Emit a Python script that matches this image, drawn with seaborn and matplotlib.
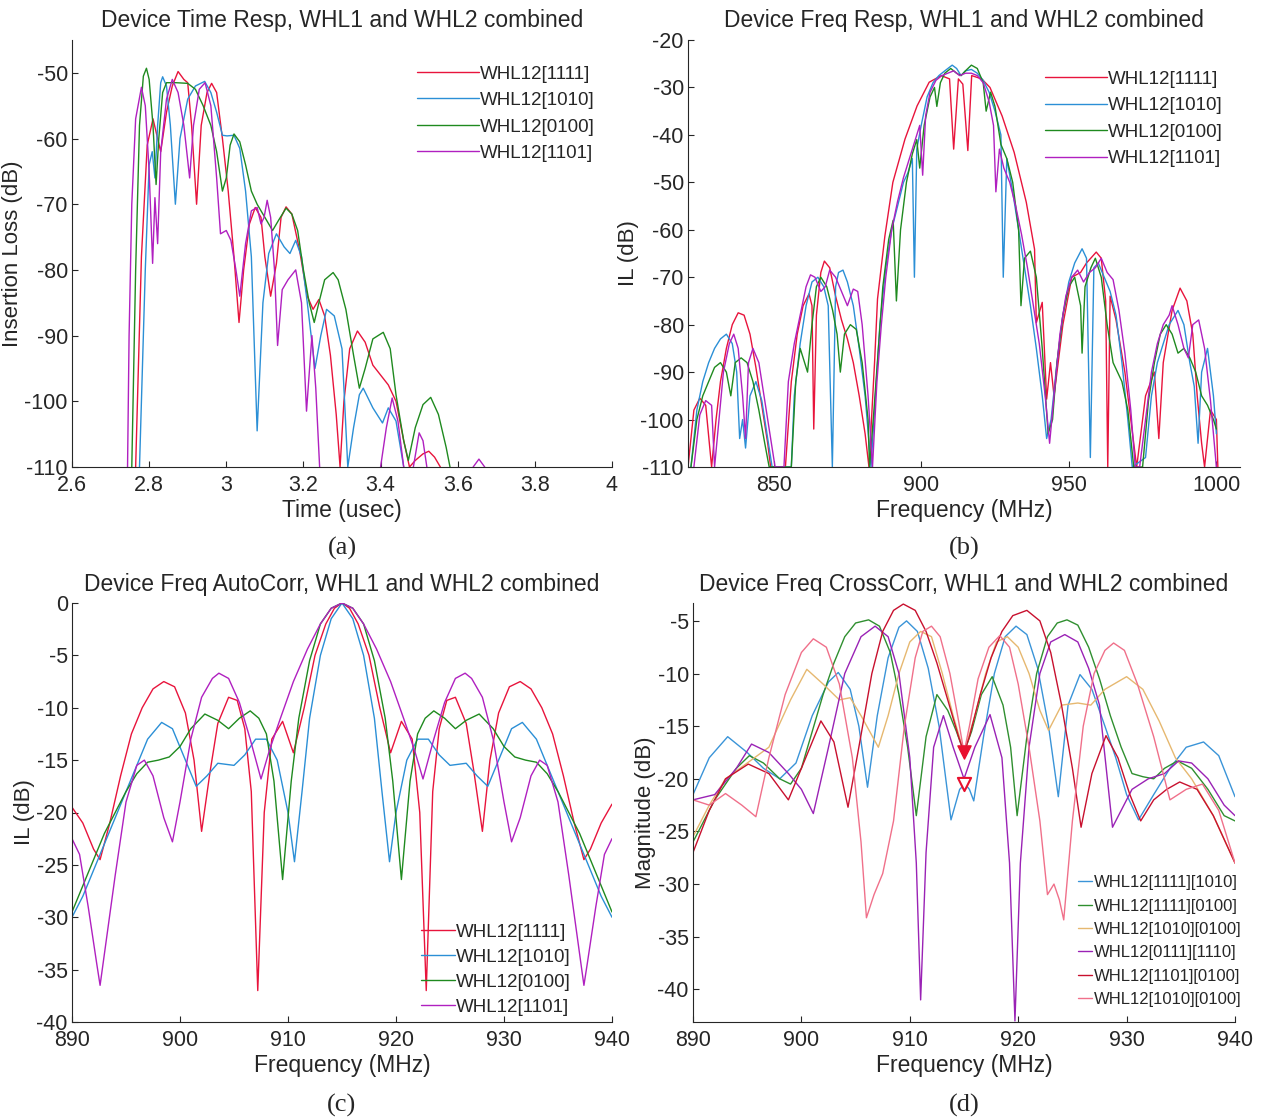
import numpy as np
import pandas as pd
import matplotlib
matplotlib.use("Agg")
import matplotlib.pyplot as plt
import seaborn as sns

# ---------------- (a) time response ----------------
a_1111_t = [2.765, 2.78, 2.795, 2.81, 2.83, 2.845, 2.86, 2.875, 2.89, 2.90, 2.91, 2.923, 2.935, 2.95, 2.962,
            2.975, 2.99, 3.005, 3.02, 3.033, 3.045, 3.06, 3.075, 3.09, 3.10, 3.115, 3.13, 3.142, 3.155, 3.17,
            3.19, 3.21, 3.225, 3.24, 3.255, 3.27, 3.285, 3.295, 3.305, 3.32, 3.34, 3.36, 3.38, 3.40, 3.42,
            3.44, 3.46, 3.475, 3.49, 3.51, 3.525, 3.54, 3.555]
a_1111_il = [-110, -78, -61, -57, -62, -56, -52, -49.8, -51, -51.5, -58, -70, -58, -53, -51.6,
             -53, -60, -68, -78, -88, -80, -73, -70.5, -72, -78, -84, -79, -72, -70.4, -71.5,
             -77, -84, -86, -84.5, -87, -93, -102, -110, -100, -92, -89.3, -91, -94.5, -96, -97.5,
             -100, -106, -110, -109, -108, -107.6, -108.5, -110]

a_1010_t = [2.775, 2.79, 2.80, 2.808, 2.815, 2.822, 2.83, 2.835, 2.845, 2.855, 2.868, 2.88, 2.90, 2.92, 2.944,
            2.96, 2.975, 2.99, 3.002, 3.02, 3.035, 3.05, 3.065, 3.08, 3.095, 3.11, 3.13, 3.15, 3.165, 3.18,
            3.195, 3.21, 3.23, 3.245, 3.26, 3.28, 3.30, 3.315, 3.33, 3.345, 3.355, 3.38, 3.405, 3.42, 3.44, 3.46]
a_1010_il = [-110, -80, -64, -62, -66, -58, -51.5, -50.6, -52, -58, -70, -60, -54, -52, -51.3,
             -53, -56, -59.5, -59.6, -59.5, -61.5, -68, -78, -104.5, -85, -77.5, -74.5, -76.5, -77.5, -75.5,
             -78, -85, -95, -90, -86, -87, -92, -110, -104, -99, -98, -101, -103.3, -101, -103, -110]

a_0100_t = [2.755, 2.765, 2.775, 2.785, 2.793, 2.80, 2.81, 2.818, 2.825, 2.835, 2.845, 2.87, 2.90, 2.92, 2.94,
            2.96, 2.975, 2.99, 3.0, 3.01, 3.02, 3.035, 3.05, 3.065, 3.08, 3.10, 3.12, 3.135, 3.155, 3.17,
            3.185, 3.2, 3.215, 3.228, 3.24, 3.255, 3.277, 3.29, 3.31, 3.33, 3.345, 3.36, 3.38, 3.407, 3.425,
            3.44, 3.46, 3.472, 3.49, 3.51, 3.53, 3.55, 3.57, 3.58]
a_0100_il = [-110, -80, -58, -50.5, -49.3, -51, -58, -67, -60, -53, -51.5, -51.5, -51.6, -52.5, -55,
             -58, -62, -68, -66, -61, -59.3, -60.5, -64, -68, -70, -72, -74, -72.5, -70.6, -71.5,
             -74, -80, -85, -88, -85, -81.5, -80.4, -81.5, -86, -93, -98, -95, -90.5, -89.5, -92,
             -99, -106, -109, -104, -100.5, -99.4, -102, -107, -110]

a_1101_t = [2.744, 2.748, 2.755, 2.765, 2.78, 2.79, 2.80, 2.809, 2.815, 2.822, 2.83, 2.845, 2.86, 2.875, 2.89,
            2.905, 2.915, 2.93, 2.945, 2.96, 2.975, 2.985, 3.0, 3.012, 3.025, 3.035, 3.05, 3.065, 3.08, 3.09,
            3.098, 3.106, 3.115, 3.125, 3.133, 3.145, 3.16, 3.18, 3.195, 3.208, 3.222, 3.232, 3.242]
a_1101_il = [-110, -90, -70, -57, -52.2, -55, -65, -79, -69, -76, -62, -54, -51, -53, -58,
             -66, -58, -52.5, -51.5, -55, -66, -74.5, -74, -75.5, -80, -84, -76, -71, -70.5, -73,
             -72, -69.4, -72, -80, -91.5, -83, -81.5, -80, -85, -101.5, -90, -98, -110]
a_1101_t2 = [3.40, 3.415, 3.43, 3.445, 3.46]
a_1101_il2 = [-110, -104, -99.5, -103, -110]
a_1101_t3 = [3.485, 3.50, 3.51, 3.52]
a_1101_il3 = [-110, -104.8, -106, -110]
a_1101_t4 = [3.64, 3.655, 3.67]
a_1101_il4 = [-110, -108.8, -110]

# ---------------- (b) frequency response ----------------
b_1111_f = [821, 823, 825, 827, 829, 830.5, 832, 834, 836, 838, 840, 842, 844, 846, 848, 849,
            854, 856, 858, 860, 862, 863, 863.6, 864.5, 866, 867.2, 869, 871, 873, 875, 877, 879, 881,
            882.3, 884.2, 885.2, 887.7, 890.4, 894.5, 898.6, 902.7, 906.8, 909.6, 911, 912.6, 914.1,
            915.8, 917.1, 920.5, 923.3, 927.4, 931.5, 935.6, 938.4, 939, 941, 942.5, 943.8, 945, 948,
            951, 954, 956, 959.3, 961, 962.5, 963.2, 964, 966, 969, 972, 973, 976, 979, 980.5, 982,
            985, 987.7, 990, 992, 993.5, 995, 996, 998, 1000, 1000.5]
b_1111_il = [-110, -98, -95.5, -97, -110, -100, -92, -85, -80, -77.5, -78, -82, -89, -97, -105, -110,
             -110, -92, -82, -76, -73.5, -76, -102, -78, -69, -66.6, -68, -74, -79, -83, -88, -95, -103,
             -110, -88, -74.6, -61.3, -50, -40.9, -33.9, -28.9, -27.5, -28.2, -43, -28.2, -29.3,
             -43.3, -27.5, -28.2, -30, -36, -43.7, -54.2, -64.1, -79.6, -75.3, -95.7, -88, -95, -80,
             -70, -69, -67, -64.7, -66, -75, -110, -74, -79, -90, -105, -110, -95, -90, -104, -88,
             -77, -72.3, -75, -82, -95, -105, -110, -98, -100, -110]

b_1010_f = [822, 824, 826, 828, 830, 832, 834, 836, 837.5, 838.5, 839.5, 840.5, 842, 844, 846, 848, 849.5,
            856, 857, 859, 861, 863, 865, 867, 868.5, 869.9, 871, 872, 873.5, 875, 877, 879, 881, 883,
            884.5, 886, 888, 890, 892, 894, 895.5, 897, 897.7, 898.5, 900, 902, 904, 906, 908, 910.5,
            912, 913.5, 915, 917, 919, 921, 923, 925, 927, 927.8, 929, 931, 933, 935, 937, 939, 941,
            942.5, 944, 946, 948, 950, 952, 954.5, 956, 957.3, 958.5, 960, 962, 964, 966, 968, 970, 971.5,
            976, 978, 980, 982, 984, 986, 987, 989, 991, 992.5, 993.8, 995, 997, 999, 1000]
b_1010_il = [-110, -98, -92, -88, -85, -83, -82, -84, -90, -104, -100, -106, -95, -92, -96, -104, -110,
             -110, -95, -84, -76, -71, -70, -72, -76, -110, -72, -69, -68.5, -71, -76, -85, -95, -110,
             -95, -80, -68, -60, -55, -50, -48, -45, -70, -43, -38, -32, -29, -27.5, -26.5, -25.3,
             -26, -27.5, -26.5, -26.2, -27, -28.5, -31, -35, -40, -70, -45, -52, -60, -68, -76, -85, -95,
             -104, -100, -88, -78, -71, -67, -64, -66, -108, -68, -67, -70, -73, -78, -88, -100, -110,
             -108, -95, -88, -84, -80, -78, -77, -80, -88, -93, -105, -90, -85, -95, -103]

b_0100_f = [822, 824, 826, 828, 830, 832, 834, 835.5, 837, 839, 841, 843, 845, 847, 848.5,
            856, 857.5, 859, 860.5, 861.5, 863, 864.5, 866, 868, 870, 871.5, 872.6, 874, 876, 878, 880, 882,
            882.5, 884, 885.5, 887, 889, 890.5, 891.6, 893, 895, 897, 898.5, 899.5, 901, 903, 904.5,
            905.3, 906.5, 908, 910, 912, 913.5, 915, 917, 919, 921, 922, 923.5, 925, 927, 929, 931, 933,
            933.8, 935, 937, 939, 941, 943, 944.5, 946, 948, 950, 952, 954, 954.5, 955.5, 957.5, 959,
            961, 963, 965, 966.5, 968, 970, 972,
            975, 977, 979, 981, 983, 985, 987, 989, 991, 993, 995, 997, 999, 1000]
b_0100_il = [-110, -100, -95, -92, -89, -88, -90, -95, -88, -87, -88, -92, -98, -105, -110,
             -110, -92, -85, -88, -90, -80, -72, -70, -72, -77, -82, -90, -82, -80, -81, -88, -100,
             -110, -98, -85, -72, -62, -58, -75, -60, -50, -44, -41, -47, -38, -32, -30,
             -34, -29, -27, -26, -27, -27.5, -26.5, -25.3, -26, -29, -35, -31, -34, -42, -45, -50, -60,
             -76, -66, -64.5, -70, -85, -103, -100, -88, -78, -72, -70, -76, -86, -72, -68, -66,
             -70, -80, -88, -90, -92, -98, -110,
             -110, -96, -88, -82, -80, -82, -86, -85, -87, -90, -95, -97, -100, -102]

b_1101_f = [823, 825, 827, 829, 830, 831.5, 833, 835, 836.5, 838, 839.5, 840.5, 841.5, 843, 845, 847, 849, 850.5,
            853.5, 855, 857, 859, 861, 862.5, 864, 866, 867.5, 869, 871, 873, 875, 877, 878.5, 880, 882,
            883.5, 885, 886.5, 888, 890, 892, 894, 896, 898, 899.5, 900.5, 901.5, 903, 905, 907, 909,
            911, 913, 915, 917, 919, 921, 923, 924.5, 925.3, 926.5, 928, 930, 932, 934, 936, 938, 940,
            942, 943.5, 945, 947, 949, 951, 953, 955, 957, 959, 961, 963, 965, 967, 969, 971, 972.5,
            974, 976, 978, 980, 982, 984, 985, 987, 989, 990.5, 992, 994, 996, 998, 1000]
b_1101_il = [-110, -99, -96, -97, -110, -100, -90, -84, -82, -85, -95, -104, -88, -85, -88, -96, -104, -110,
             -110, -92, -84, -78, -72, -69.5, -70, -73, -72, -68.5, -70, -73, -76, -72.5, -73, -80, -95,
             -110, -92, -80, -70, -60, -54, -49, -45, -41, -38, -48.5, -36, -31, -28.5, -27.5, -27,
             -26.5, -27.5, -27, -27, -27.5, -29, -33, -38, -52, -43, -47, -50, -55, -61, -68, -76, -84,
             -95, -105, -95, -82, -74, -70, -68.5, -71, -69, -68, -66, -69, -70.5, -77, -86, -98, -110,
             -110, -100, -90, -84, -80, -78, -76, -80, -85, -87, -80, -79, -85, -96, -110]

# ---------------- (c) autocorrelation ----------------
c_1111_f = [890, 891, 892, 892.6, 893.5, 894.5, 895.5, 896.5, 897.5, 898.5, 899.5, 900.5, 901.3, 902,
            902.8, 903.5, 904.5, 905.3, 906, 906.6, 907.2, 907.8, 908.5, 909.5, 910.5, 911.5, 912.5,
            913.5, 914.3, 915, 915.7, 916.5, 917.5, 918.5, 919.5, 920.5, 921.5, 922.2, 922.8, 923.4,
            924, 924.7, 925.5, 926.5, 927.2, 928, 928.7, 929.5, 930.5, 931.5, 932.5, 933.5, 934.5,
            935.5, 936.5, 937.4, 938, 939, 940]
c_1111_il = [-19.5, -21, -23.5, -24.5, -21, -16.5, -12.5, -10, -8.2, -7.5, -8, -10.5, -15, -21.8,
             -16, -11.5, -9, -9.3, -12, -18, -37, -20, -13, -11.3, -14.3, -10, -5,
             -2, -0.5, 0, -0.5, -2, -5, -10, -14.3, -11.3, -13, -20, -37, -18,
             -12, -9.3, -9, -11.5, -16, -21.8, -15, -10.5, -8, -7.5, -8.2, -10, -12.5,
             -16.5, -21, -24.5, -23.5, -21, -19.2]

c_1010_f = [890, 891, 892, 893, 894, 895, 896, 897, 898.3, 899.3, 900.3, 901.5, 902.5, 903.5, 905, 906,
            907, 908, 909, 910, 910.6, 911.3, 912, 913, 914, 915, 916, 917, 918, 918.7, 919.4, 920, 921,
            922, 923, 924, 925, 926.5, 927.5, 928.5, 929.7, 930.7, 931.7, 933, 934, 935, 936, 937, 938,
            939, 940]
c_1010_il = [-30, -28, -25.5, -23, -20.5, -18, -15.5, -13, -11.4, -12, -14.5, -17.5, -16.5, -15.3, -15.5, -14.5,
             -13, -13, -15, -20, -24.7, -18, -11, -5, -1.5, 0, -1.5, -5, -11, -18, -24.7, -20, -15,
             -13, -13, -14.5, -15.5, -15.3, -16.5, -17.5, -14.5, -12, -11.4, -13, -15.5, -18, -20.5, -23, -25.5,
             -28, -30]

c_0100_f = [890, 891, 892, 893, 894, 895, 896, 897, 898, 899, 900, 901, 902.3, 903.5, 904.5, 905.5, 906.5,
            907.3, 908, 908.7, 909.5, 910.3, 911, 912, 913, 914, 915, 916, 917, 918, 919, 919.7, 920.5,
            921.3, 922, 922.7, 923.5, 924.5, 925.5, 926.5, 927.7, 929, 930, 931, 932, 933, 934, 935,
            936, 937, 938, 939, 940]
c_0100_il = [-29.5, -27, -24.5, -22, -20, -18, -16.3, -15.2, -15, -14.7, -13.7, -12, -10.6, -11.2, -12, -11, -10.3,
             -11, -12.5, -17, -26.4, -17, -11, -5.5, -2, -0.5, 0, -0.5, -2, -5.5, -11, -17, -26.4,
             -17, -12.5, -11, -10.3, -11, -12, -11.2, -10.6, -12, -13.7, -14.7, -15, -15.2, -16.3, -18,
             -20, -22, -24.5, -27, -29.5]

c_1101_f = [890, 890.7, 891.5, 892.3, 892.6, 893.2, 894, 895, 896, 896.7, 897.5, 898.5, 899.3, 900, 901,
            902, 903, 903.6, 904.5, 905.5, 906.5, 907.5, 908.3, 909.3, 910.5, 911.8, 913, 914, 915, 916,
            917, 918.2, 919.5, 920.7, 921.7, 922.5, 923.5, 924.5, 925.5, 926.4, 927, 928, 929, 930,
            930.7, 931.5, 932.5, 933.3, 934, 935, 936, 936.8, 937.4, 937.7, 938.5, 939.3, 940]
c_1101_il = [-22.5, -24, -29, -34.5, -36.5, -32, -26, -19, -15.5, -15, -16.5, -20.5, -22.8, -19, -13,
             -9, -7.2, -6.7, -7.2, -9.5, -13, -16.8, -14, -11, -7.5, -4.4, -2, -0.5, 0, -0.5,
             -2, -4.4, -7.5, -11, -14, -16.8, -13, -9.5, -7.2, -6.7, -7.2, -9, -13, -19,
             -22.8, -20.5, -16.5, -15, -15.5, -19, -26, -32, -36.5, -34.5, -29, -24, -22.5]

# ---------------- (d) cross-correlation ----------------
d_s1_f = [890, 891.5, 893.2, 895, 896.5, 898, 899.5, 901, 902.5, 903.4, 904.5, 905.3, 906.1, 907, 908, 909,
          909.7, 910.7, 911.7, 912.7, 913.8, 914.6, 915.1, 915.5, 915.9, 916.8, 917.8, 918.8, 919.8, 920.8,
          921.8, 922.8, 923.7, 924.6, 925.7, 926.8, 928, 929, 930, 931.1, 932.5, 934, 935.5, 937.1, 938.5, 940]
d_s1_db = [-21.5, -18, -16, -17.5, -19, -20, -18.5, -14, -10.8, -9.9, -11.5, -15, -20.8, -14, -8.5, -5.6,
           -5.0, -6, -9.5, -15, -23.9, -21, -20.5, -21, -22.1, -16, -10, -6.5, -5.5, -6.3,
           -9.5, -15, -21.7, -13, -10.1, -11.5, -15, -18, -21.5, -23.9, -21.5, -19, -17, -16.5, -17.8, -21.7]

d_s2_f = [890, 892, 894, 895.2, 896.5, 898, 899, 900, 901, 902, 903, 904, 905, 906.2, 907.2, 908.2, 909,
          909.8, 910.6, 911.5, 912.5, 913.5, 914.3, 915, 915.7, 916.6, 917.6, 918.6, 919.3, 919.9, 920.8,
          921.7, 922.7, 923.6, 924.5, 925.5, 926.5, 927.5, 928.5, 929.5, 930.5, 931.5, 932.5, 933.5,
          934.7, 936, 937.5, 939, 940]
d_s2_db = [-26, -22, -19, -17.8, -18.5, -20, -20.5, -19, -15.5, -12, -9, -6.5, -5.2, -4.9, -5.5, -8, -12,
           -17, -23.5, -16, -12, -13.5, -15.5, -17.5, -15.5, -12, -10.3, -13, -17, -23.5, -16,
           -10, -6.5, -5.2, -4.9, -5.4, -7.5, -10.5, -14, -17, -19.5, -19.8, -20, -19,
           -18.3, -19, -21, -23.5, -24]

d_s3_f = [890, 891.5, 893, 895, 897, 899, 900.5, 902, 903.5, 904.5, 905.5, 907.1, 908, 909, 910, 911, 912,
          913, 914, 915, 916, 917, 918, 919, 920, 921, 922, 922.8, 924, 925.5, 926.7, 928, 930, 931.5,
          933, 934.5, 936, 938, 940]
d_s3_db = [-25.5, -22.5, -20, -18.5, -17, -12.5, -9.6, -11, -12.5, -12.3, -14, -17, -14, -10, -7, -6, -6.5,
           -10, -14, -17.5, -14, -10, -7, -6.5, -7.5, -10, -13.5, -15.4, -13, -12.8, -13, -11.5, -10.3, -11.5,
           -14.5, -18, -20, -23.5, -28]

d_s4_f = [890, 892, 894, 895.4, 897, 898.8, 900, 901.1, 902.5, 904, 905.5, 906.8, 908, 909, 910, 910.6,
          911, 911.5, 912.2, 913.1, 914, 915, 916, 917.4, 918.5, 919.2, 919.7, 920.2, 921, 922, 923,
          924.3, 925.5, 926.5, 927.5, 928.7, 930.5, 932, 933.5, 934.8, 936, 937.5, 939, 940]
d_s4_db = [-22, -21.5, -19, -16.7, -17.5, -19.5, -21, -23.3, -17, -10, -6.5, -5.5, -6.5, -10, -18, -28,
           -41, -27, -17, -14, -17, -20, -17, -13.9, -18, -28, -43, -28, -17, -10, -7,
           -6.3, -7, -9.5, -13, -24.6, -21, -20, -19.5, -18.3, -18.5, -20, -22.5, -23.5]

d_s5_f = [890, 891.5, 893, 895.1, 897, 898.8, 900, 901.8, 903, 904.3, 905.3, 906.5, 907.5, 908.5, 909.4,
          910.5, 911.5, 912.5, 913.5, 914.5, 915, 915.5, 916.5, 917.5, 918.5, 919.5, 920.8, 922, 923,
          924, 925, 925.8, 926.8, 928.1, 929.2, 930.3, 931.3, 932.5, 933.7, 934.9, 936.5, 938, 940]
d_s5_db = [-27, -23, -20, -18.6, -19.5, -22, -19, -14.5, -16.5, -22.7, -17, -10, -6, -4, -3.4,
           -4, -6, -9, -12.5, -16, -17.5, -16, -12, -8.5, -6, -4.5, -4.0, -5, -8,
           -13, -19, -24.6, -19.5, -15.9, -18, -21.5, -24, -22, -21, -20.3, -21, -23.5, -28]

d_s6_f = [890, 891.5, 893, 894.5, 895.8, 897, 898.5, 900, 901.1, 902.3, 903.5, 904.7, 905.5, 906, 906.7,
          907.5, 908.5, 909.5, 910.5, 911.2, 912, 912.8, 913.7, 914.5, 915, 915.5, 916.3, 917.3, 918.3,
          919.2, 920, 921, 922, 922.7, 923.3, 923.8, 924.2, 925, 926, 927, 928, 928.8, 929.8, 931, 932.5,
          934, 935.5, 937, 938.5, 940]
d_s6_db = [-22, -22.5, -21.4, -22.5, -23.6, -18, -12, -8, -6.7, -7.5, -11, -18, -26, -33.2, -31,
           -29, -24, -15, -8.5, -6, -5.5, -6.5, -10, -14.5, -17.5, -15, -10.5, -7.5, -6.4,
           -7.5, -11, -17, -24, -31, -30, -31.5, -33.4, -24, -15, -10, -7.8, -7.1, -7.8, -11, -16,
           -22, -21, -20.5, -23, -28]

marker_f = [915, 915]
marker_db = [-17.5, -20.5]

labels_4 = ["WHL12[1111]", "WHL12[1010]", "WHL12[0100]", "WHL12[1101]"]
labels_6 = ["WHL12[1111][1010]", "WHL12[1111][0100]", "WHL12[1010][0100]",
            "WHL12[0111][1110]", "WHL12[1101][0100]", "WHL12[1010][0100]"]

colors_4 = ["#e8143c", "#2b8fd6", "#1f8a1f", "#b020c0"]
colors_6 = ["#3a94d8", "#2f8f2f", "#e6b870", "#9a22b5", "#c8102e", "#f0708a"]

sns.set_style("ticks")
plt.rcParams['font.family'] = ['Liberation Sans', 'DejaVu Sans']
plt.rcParams['axes.unicode_minus'] = False

fig = plt.figure(figsize=(12.62, 11.2), dpi=100)
W, H = 1262.0, 1120.0


def make_ax(l, r, t, b):
    return fig.add_axes([l / W, 1 - b / H, (r - l) / W, (b - t) / H])


def draw(ax, x, y, color, label=None):
    df = pd.DataFrame({"x": x, "y": y})
    sns.lineplot(data=df, x="x", y="y", sort=False, estimator=None, color=color,
                 lw=1.0, label=label, ax=ax, legend=False)


def style(ax, title, xlabel, ylabel, tag, tag_y):
    ax.set_title(title, fontsize=16.5, pad=9)
    ax.set_xlabel(xlabel, fontsize=16.5, labelpad=2)
    ax.set_ylabel(ylabel, fontsize=16, labelpad=1)
    ax.tick_params(direction="in", length=4, width=0.8, labelsize=15.5)
    ax.tick_params(axis="x", pad=6)
    ax.tick_params(axis="y", pad=3)
    sns.despine(ax=ax)
    ax.text(0.5, tag_y, tag, transform=ax.transAxes, ha="center", va="center",
            fontsize=19, family="Liberation Serif")


# (a)
ax = make_ax(72, 612, 40, 467)
series_a = [(a_1111_t, a_1111_il), (a_1010_t, a_1010_il), (a_0100_t, a_0100_il), (a_1101_t, a_1101_il)]
for (x, y), c, lab in zip(series_a, colors_4, labels_4):
    draw(ax, x, y, c, lab)
for x, y in [(a_1101_t2, a_1101_il2), (a_1101_t3, a_1101_il3), (a_1101_t4, a_1101_il4)]:
    draw(ax, x, y, colors_4[3])
ax.set_xlim(2.6, 4)
ax.set_ylim(-110, -45)
ax.set_xticks([2.6, 2.8, 3, 3.2, 3.4, 3.6, 3.8, 4])
ax.set_xticklabels(["2.6", "2.8", "3", "3.2", "3.4", "3.6", "3.8", "4"])
ax.set_yticks(range(-110, -45, 10))
style(ax, "Device Time Resp, WHL1 and WHL2 combined", "Time (usec)", "Insertion Loss (dB)", "(a)", -0.19)
ax.legend(loc="upper right", bbox_to_anchor=(1.0, 0.98), frameon=False, fontsize=13.5,
          handlelength=3.3, handletextpad=0.05, labelspacing=0.5)

# (b)
ax = make_ax(688, 1240, 40, 467)
series_b = [(b_1111_f, b_1111_il), (b_1010_f, b_1010_il), (b_0100_f, b_0100_il), (b_1101_f, b_1101_il)]
for (x, y), c, lab in zip(series_b, colors_4, labels_4):
    draw(ax, x, y, c, lab)
ax.set_xlim(821, 1008)
ax.set_ylim(-110, -20)
ax.set_xticks([850, 900, 950, 1000])
ax.set_yticks(range(-110, -19, 10))
style(ax, "Device Freq Resp, WHL1 and WHL2 combined", "Frequency (MHz)", "IL (dB)", "(b)", -0.19)
ax.legend(loc="upper right", bbox_to_anchor=(1.0, 0.968), frameon=False, fontsize=13.5,
          handlelength=3.3, handletextpad=0.05, labelspacing=0.5)

# (c)
ax = make_ax(72, 612, 603, 1022)
series_c = [(c_1111_f, c_1111_il), (c_1010_f, c_1010_il), (c_0100_f, c_0100_il), (c_1101_f, c_1101_il)]
for (x, y), c, lab in zip(series_c, colors_4, labels_4):
    draw(ax, x, y, c, lab)
ax.set_xlim(890, 940)
ax.set_ylim(-40, 0)
ax.set_xticks(range(890, 941, 10))
ax.set_yticks(range(-40, 1, 5))
style(ax, "Device Freq AutoCorr, WHL1 and WHL2 combined", "Frequency (MHz)", "IL (dB)", "(c)", -0.2)
ax.legend(loc="lower right", bbox_to_anchor=(0.955, -0.025), frameon=False, fontsize=13.5,
          handlelength=1.8, handletextpad=0.05, labelspacing=0.42)

# (d)
ax = make_ax(693, 1235, 603, 1022)
series_d = [(d_s1_f, d_s1_db), (d_s2_f, d_s2_db), (d_s3_f, d_s3_db),
            (d_s4_f, d_s4_db), (d_s5_f, d_s5_db), (d_s6_f, d_s6_db)]
for (x, y), c, lab in zip(series_d, colors_6, labels_6):
    draw(ax, x, y, c, lab)
ax.scatter(marker_f[:1], marker_db[:1], marker="v", s=90, color="#e8102e", zorder=5)
ax.scatter(marker_f[1:], marker_db[1:], marker="v", s=90, facecolor="white",
           edgecolor="#e8102e", linewidth=1.5, zorder=5)
ax.set_xlim(890, 940)
ax.set_ylim(-43.1, -3.3)
ax.set_xticks(range(890, 941, 10))
ax.set_yticks(range(-40, -4, 5))
style(ax, "Device Freq CrossCorr, WHL1 and WHL2 combined", "Frequency (MHz)", "Magnitude (dB)", "(d)", -0.2)
ax.legend(loc="lower right", bbox_to_anchor=(1.04, 0.0), frameon=False, fontsize=12,
          handlelength=0.8, handletextpad=0.15, labelspacing=0.5)

fig.savefig("out.png", dpi=100)
